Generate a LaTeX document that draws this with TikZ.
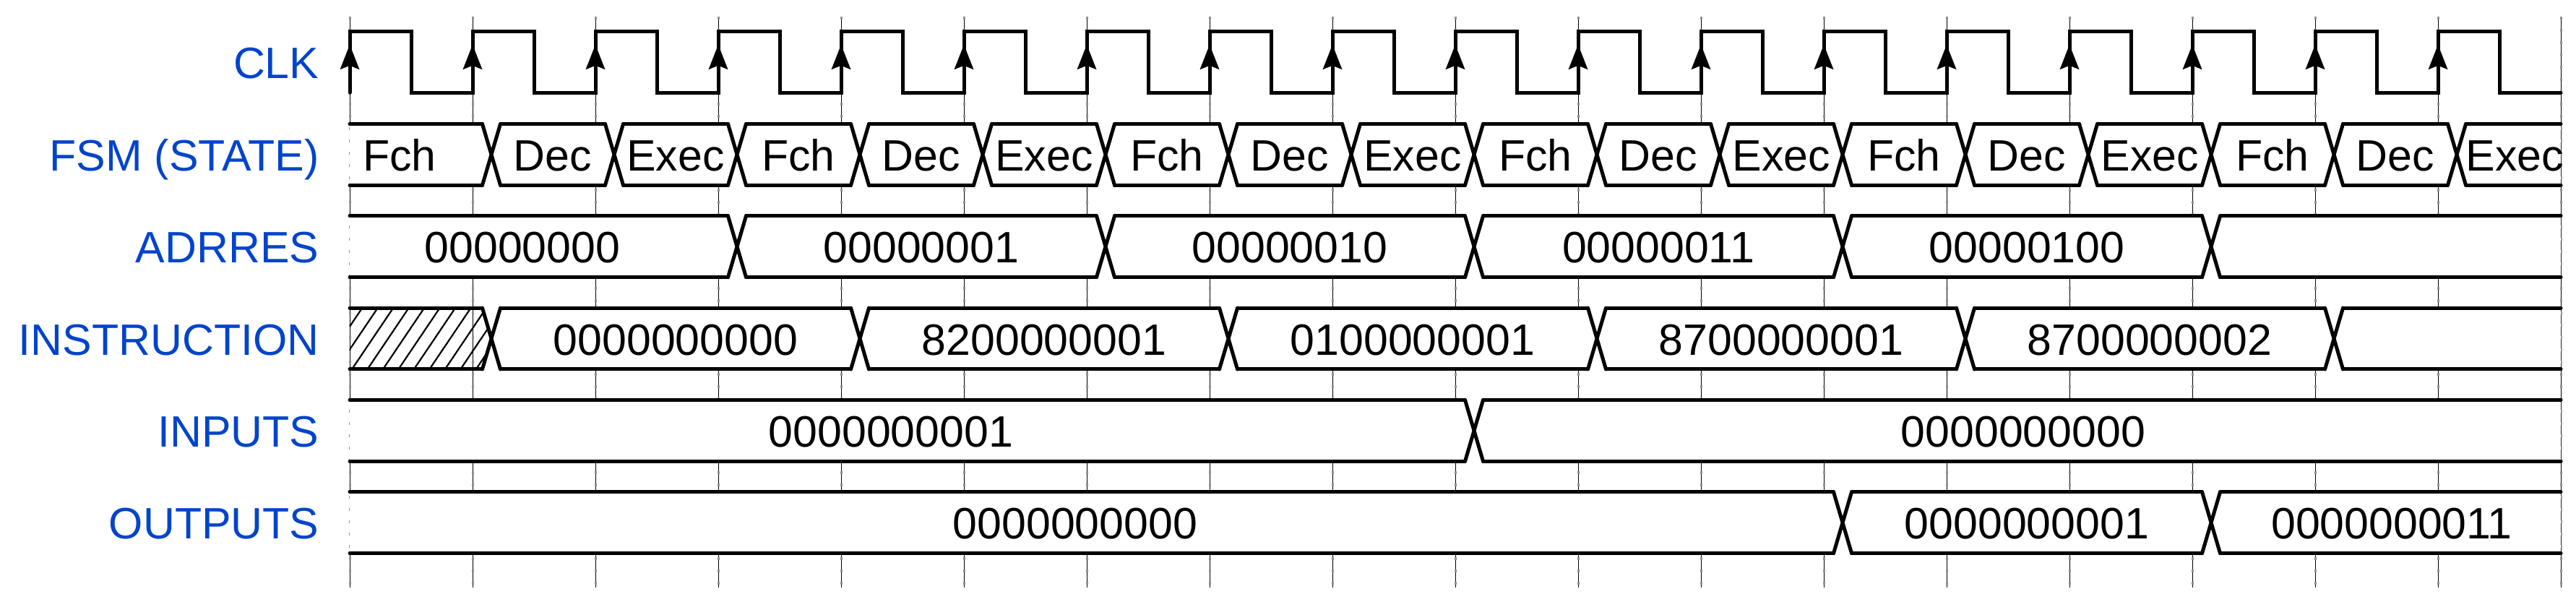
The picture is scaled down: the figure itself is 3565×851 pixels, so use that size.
\documentclass[tikz,border=0pt]{standalone}
\usepackage{fontspec}
\setmainfont{Liberation Sans}
\usetikzlibrary{arrows.meta}
\usetikzlibrary{patterns.meta}

\definecolor{sigblue}{RGB}{0,68,204}
\definecolor{gridgray}{RGB}{145,145,145}

% row/from edge/to edge/value
\def\segs{1/0/1/Fch, 1/1/2/Dec, 1/2/3/Exec, 1/3/4/Fch, 1/4/5/Dec, 1/5/6/Exec,
	1/6/7/Fch, 1/7/8/Dec, 1/8/9/Exec, 1/9/10/Fch, 1/10/11/Dec, 1/11/12/Exec,
	1/12/13/Fch, 1/13/14/Dec, 1/14/15/Exec, 1/15/16/Fch, 1/16/17/Dec, 1/17/18/Exec,
	2/0/3/00000000, 2/3/6/00000001, 2/6/9/00000010, 2/9/12/00000011, 2/12/15/00000100,
	3/1/4/0000000000, 3/4/7/8200000001, 3/7/10/0100000001, 3/10/13/8700000001, 3/13/16/8700000002,
	4/0/9/0000000001, 4/9/18/0000000000,
	5/0/12/0000000000, 5/12/15/0000000001, 5/15/18/0000000011}
% empty stretches
\def\gaps{2/15/18, 3/16/18}

\newcommand\segcoords[3]{%
	\pgfmathsetmacro\sY{213.9+(#1-1)*127.33}%
	\pgfmathsetmacro\sT{\sY-42.4}%
	\pgfmathsetmacro\sB{\sY+42.4}%
	\pgfmathsetmacro\sLp{#2==0 ? 484 : 510+#2*170}%
	\pgfmathsetmacro\sL{#2==0 ? 484 : 522.5+#2*170}%
	\pgfmathsetmacro\sRp{#3==18 ? 3544 : 510+#3*170}%
	\pgfmathsetmacro\sR{#3==18 ? 3544 : 497.5+#3*170}%
	\pgfmathsetmacro\sLt{#2==0 ? 426 : 510+#2*170}%
	\pgfmathsetmacro\sRt{#3==18 ? 3560 : 510+#3*170}%
}

\begin{document}
\begin{tikzpicture}[x=0.1mm, y=-0.1mm,
	wave/.style={line width=0.5mm, line cap=round},
	gridline/.style={line width=0.1mm, black},
	griddash/.style={line width=0.3mm, gridgray, dash pattern=on 0.4mm off 1.3mm},
	clkarrow/.style={line width=0.5mm, -{Stealth[length=3.4mm, width=2.6mm, inset=0.5mm]}},
	signame/.style={anchor=base east, inner sep=0pt, text=sigblue, font=\fontsize{17.3}{20}\selectfont},
	value/.style={anchor=base, inner sep=0pt, font=\fontsize{17.3}{20}\selectfont}]

	\useasboundingbox (0,0) rectangle (3565,851);

	% Grid %
	\foreach \k in {0,...,18} {
		\draw[gridline] ({484+\k*170},23) -- ({484+\k*170},813);
		\draw[griddash] ({484+\k*170},23) -- ({484+\k*170},813);
	}

	% Names %
	\node[signame] (clk) at (442,108.3) {CLK};
	\node[signame] (fsm) at (442,236.4) {FSM (STATE)};
	\node[signame] (adr) at (442,363.7) {ADRRES};
	\node[signame] (ins) at (442,491.1) {INSTRUCTION};
	\node[signame] (inp) at (442,618.4) {INPUTS};
	\node[signame] (outp) at (442,745.7) {OUTPUTS};

	% Clock %
	\draw[wave] (484,128.3) \foreach \k in {0,...,17} { -- ({484+\k*170},43.3) -- ++(85,0) -- ++(0,85) -- ++(85,0) };
	\foreach \k in {0,...,17} \draw[clkarrow] ({484+\k*170},128.3) -- ({484+\k*170},61.7);

	% Bus fills %
	\foreach \row/\a/\b/\txt in \segs {
		\segcoords{\row}{\a}{\b}
		\fill[white] (\sLp,\sY) -- (\sL,\sT) -- (\sR,\sT) -- (\sRp,\sY) -- (\sR,\sB) -- (\sL,\sB) -- cycle;
	}
	\foreach \row/\a/\b in \gaps {
		\segcoords{\row}{\a}{\b}
		\fill[white] (\sLp,\sY) -- (\sL,\sT) -- (\sR,\sT) -- (\sRp,\sY) -- (\sR,\sB) -- (\sL,\sB) -- cycle;
	}
	% Unknown instruction %
	\segcoords{3}{0}{1}
	\fill[pattern={Lines[angle=56, distance=1.78mm, line width=0.22mm]}] (\sL,\sT) -- (\sR,\sT) -- (\sRp,\sY) -- (\sR,\sB) -- (\sL,\sB) -- cycle;
	\draw[wave] (\sL,\sT) -- (\sR,\sT) (\sL,\sB) -- (\sR,\sB);

	% Bus lines and values %
	\foreach \row/\a/\b/\txt in \segs {
		\segcoords{\row}{\a}{\b}
		\draw[wave] (\sL,\sT) -- (\sR,\sT) (\sL,\sB) -- (\sR,\sB);
		\ifnum\a>0 \draw[wave] (\sLp-12.5,\sT) -- (\sLp+12.5,\sB) (\sLp-12.5,\sB) -- (\sLp+12.5,\sT); \fi
		\node[value] (v\row-\a) at ({(\sLt+\sRt)/2},\sY+22.5) {\txt};
	}
	\foreach \row/\a/\b in \gaps {
		\segcoords{\row}{\a}{\b}
		\draw[wave] (\sL,\sT) -- (\sR,\sT) (\sL,\sB) -- (\sR,\sB);
		\draw[wave] (\sLp-12.5,\sT) -- (\sLp+12.5,\sB) (\sLp-12.5,\sB) -- (\sLp+12.5,\sT);
	}
\end{tikzpicture}
\end{document}
